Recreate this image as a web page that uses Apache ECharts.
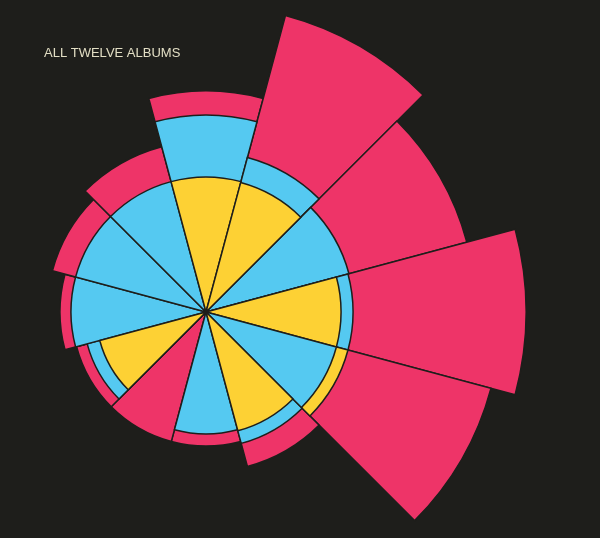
<!DOCTYPE html>
<html>
<head>
<meta charset="utf-8">
<script src="https://cdn.jsdelivr.net/npm/echarts@6/dist/echarts.min.js"></script>
<style>
html,body{margin:0;padding:0;background:#1e1e1b;}
#chart{width:600px;height:538px;}
</style>
</head>
<body>
<div id="chart"></div>
<script>
// Twelve albums, clockwise from the top
var albums = ['Album 1','Album 2','Album 3','Album 4','Album 5','Album 6',
              'Album 7','Album 8','Album 9','Album 10','Album 11','Album 12'];
// Values per colour (radial length, same scale for all)
var yellowValues = [135, 134, 0, 135, 147, 123, 0, 0, 110, 0, 0, 0];
var cyanValues   = [197, 160, 148, 147, 135, 136, 122, 0, 123, 135, 135, 135];
var pinkValues   = [221, 307, 270, 320, 295, 160, 134, 134, 134, 146, 159, 171];
var radiusMax = 320;

var colors = { yellow: '#fdd134', cyan: '#55c9f1', pink: '#ee3468' };

// Build layers: largest drawn first, smallest on top
var layers = [[], [], []];
for (var i = 0; i < albums.length; i++) {
  var items = [
    { v: yellowValues[i], c: colors.yellow },
    { v: cyanValues[i], c: colors.cyan },
    { v: pinkValues[i], c: colors.pink }
  ];
  items.sort(function (a, b) { return b.v - a.v; });
  for (var k = 0; k < 3; k++) {
    layers[k].push(items[k].v > 0 ? { value: items[k].v, itemStyle: { color: items[k].c } } : '-');
  }
}

var series = layers.map(function (d, k) {
  return {
    type: 'bar',
    coordinateSystem: 'polar',
    data: d,
    barGap: '-100%',
    barCategoryGap: '0%',
    z: 2 + k,
    animation: false,
    itemStyle: { borderColor: '#1e1e1b', borderWidth: 1.5 }
  };
});

var chart = echarts.init(document.getElementById('chart'), null, { renderer: 'canvas' });
chart.setOption({
  backgroundColor: '#1e1e1b',
  animation: false,
  title: {
    text: 'ALL TWELVE ALBUMS',
    left: 44,
    top: 47,
    padding: 0,
    textStyle: { color: '#e2dec4', fontSize: 13, fontWeight: 'normal', fontFamily: 'Liberation Sans, Arial, sans-serif' }
  },
  polar: { center: [206, 312], radius: [0, radiusMax] },
  angleAxis: {
    type: 'category',
    data: albums,
    startAngle: 105,
    clockwise: true,
    axisLine: { show: false },
    axisTick: { show: false },
    axisLabel: { show: false },
    splitLine: { show: false }
  },
  radiusAxis: {
    type: 'value',
    min: 0,
    max: radiusMax,
    axisLine: { show: false },
    axisTick: { show: false },
    axisLabel: { show: false },
    splitLine: { show: false }
  },
  series: series
});
</script>
</body>
</html>
